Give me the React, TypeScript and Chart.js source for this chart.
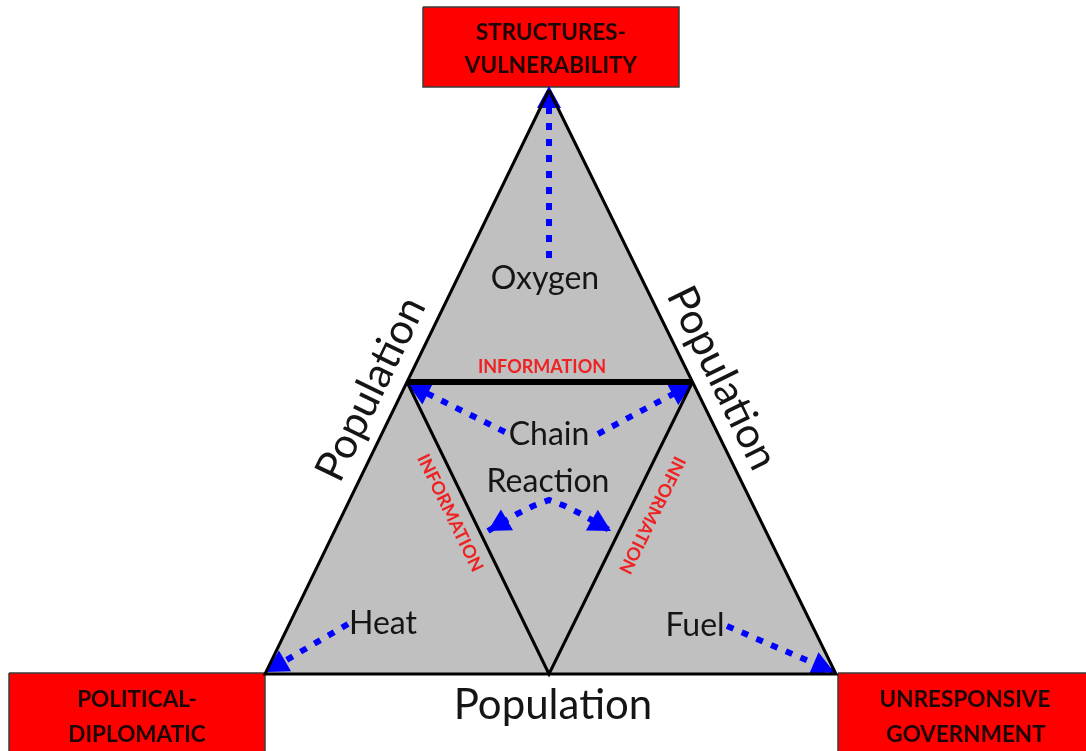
import React, { useEffect, useRef } from 'react';
import { Chart, registerables } from 'chart.js';

Chart.register(...registerables);

const W = 1086;
const H = 751;

// ---- geometry (data space, y grows downward) ----
const outerTriangle = [
  { x: 549, y: 90 },
  { x: 265, y: 674 },
  { x: 836, y: 674 },
  { x: 549, y: 90 },
];
const innerSides = [
  { x: 407, y: 382 },
  { x: 549, y: 674 },
  { x: 692.5, y: 382 },
];
const innerTop = [
  { x: 407, y: 382 },
  { x: 692.5, y: 382 },
];

// red boxes: [left, right, top, bottom]
const boxTop = [423, 679, 7, 87];
const boxLeft = [9, 265, 673, 770];
const boxRight = [838, 1096, 673, 770];

// blue dotted arrows (last point = arrow tip)
const arrowOxygen = [
  { x: 549, y: 258 },
  { x: 549, y: 86 },
];
const arrowChainLeft = [
  { x: 505, y: 432 },
  { x: 408, y: 384 },
];
const arrowChainRight = [
  { x: 598, y: 434 },
  { x: 692, y: 384 },
];
const arrowChainDown = [
  { x: 488, y: 531 },
  { x: 517, y: 514 },
  { x: 533, y: 506 },
  { x: 549, y: 500 },
  { x: 565, y: 506 },
  { x: 581, y: 514 },
  { x: 611, y: 531 },
];
const arrowHeat = [
  { x: 348, y: 624 },
  { x: 266, y: 672 },
];
const arrowFuel = [
  { x: 727, y: 626 },
  { x: 834, y: 672 },
];

// ---- texts ----
const boxTexts = ['STRUCTURES-', 'VULNERABILITY', 'POLITICAL-', 'DIPLOMATIC', 'UNRESPONSIVE', 'GOVERNMENT'];
const boxTextX = [551, 551, 137, 137, 965, 966];
const boxTextY = [40, 73, 707, 742, 707, 742];

const nodeTexts = ['Oxygen', 'Chain', 'Reaction', 'Heat', 'Fuel'];
const nodeTextX = [545, 549, 548, 383, 695];
const nodeTextY = [289, 445, 492, 634, 636];

const populationText = 'Population';
const informationText = 'INFORMATION';

function rectPoly(b: number[]) {
  return [
    { x: b[0], y: b[2] },
    { x: b[1], y: b[2] },
    { x: b[1], y: b[3] },
    { x: b[0], y: b[3] },
    { x: b[0], y: b[2] },
  ];
}

const FONT = 'Lato, "Open Sans", "DejaVu Sans", sans-serif';

const arrowHeadPlugin = {
  id: 'arrowHeads',
  afterDatasetDraw(chart: any, args: any) {
    const ds = chart.data.datasets[args.index];
    if (!ds.heads) return;
    const xs = chart.scales.x;
    const ys = chart.scales.y;
    const ctx = chart.ctx;
    const pts = ds.data.map((p: any) => ({ x: xs.getPixelForValue(p.x), y: ys.getPixelForValue(p.y) }));
    const drawHead = (tip: any, from: any) => {
      const dx = tip.x - from.x;
      const dy = tip.y - from.y;
      const len = Math.hypot(dx, dy) || 1;
      const ux = dx / len;
      const uy = dy / len;
      const L = 22;
      const hw = 12;
      const bx = tip.x - ux * L;
      const by = tip.y - uy * L;
      ctx.save();
      ctx.fillStyle = '#0000ff';
      ctx.beginPath();
      ctx.moveTo(tip.x, tip.y);
      ctx.lineTo(bx - uy * hw, by + ux * hw);
      ctx.lineTo(bx + uy * hw, by - ux * hw);
      ctx.closePath();
      ctx.fill();
      ctx.restore();
    };
    if (ds.heads === 'end' || ds.heads === 'both') {
      drawHead(pts[pts.length - 1], pts[pts.length - 2]);
    }
    if (ds.heads === 'both') {
      drawHead(pts[0], pts[1]);
    }
  },
};

const textPlugin = {
  id: 'diagramTexts',
  afterDatasetsDraw(chart: any) {
    const xs = chart.scales.x;
    const ys = chart.scales.y;
    const ctx = chart.ctx;
    const px = (v: number) => xs.getPixelForValue(v);
    const py = (v: number) => ys.getPixelForValue(v);
    ctx.save();
    ctx.textAlign = 'center';

    // box labels
    ctx.textBaseline = 'alphabetic';
    ctx.fillStyle = '#1c0606';
    ctx.font = `bold 22.5px ${FONT}`;
    boxTexts.forEach((t, i) => ctx.fillText(t, px(boxTextX[i]), py(boxTextY[i])));

    // node labels
    ctx.fillStyle = '#151515';
    ctx.font = `32px ${FONT}`;
    nodeTexts.forEach((t, i) => ctx.fillText(t, px(nodeTextX[i]), py(nodeTextY[i])));

    // bottom population
    ctx.font = `42px ${FONT}`;
    ctx.fillText(populationText, px(553), py(719));

    // side angles from triangle geometry
    const A = outerTriangle[0];
    const BL = outerTriangle[1];
    const BR = outerTriangle[2];
    const leftAng = Math.atan2(py(A.y) - py(BL.y), px(A.x) - px(BL.x));
    const rightAng = Math.atan2(py(BR.y) - py(A.y), px(BR.x) - px(A.x));
    const drawRot = (t: string, x: number, y: number, ang: number) => {
      ctx.save();
      ctx.translate(px(x), py(y));
      ctx.rotate(ang);
      ctx.fillText(t, 0, 0);
      ctx.restore();
    };
    ctx.textBaseline = 'middle';
    drawRot(populationText, 371, 389, leftAng);
    drawRot(populationText, 722, 378, rightAng);

    // information labels
    ctx.fillStyle = '#ee2222';
    ctx.font = `bold 18px ${FONT}`;
    drawRot(informationText, 542, 367, 0);
    const M = innerSides[1];
    const ML = innerSides[0];
    const MR = innerSides[2];
    const innerLeftAng = Math.atan2(py(M.y) - py(ML.y), px(M.x) - px(ML.x));
    const innerRightAng = Math.atan2(py(M.y) - py(MR.y), px(M.x) - px(MR.x));
    drawRot(informationText, 450, 513, innerLeftAng);
    drawRot(informationText, 652, 515, innerRightAng);
    ctx.restore();
  },
};

function dotted(data: any[], heads: string) {
  return {
    data,
    heads,
    borderColor: '#0000ff',
    borderWidth: 6,
    borderDash: [7, 9],
    borderCapStyle: 'butt',
    fill: false,
    pointRadius: 0,
    order: 5,
    clip: false,
  };
}

function box(b: number[]) {
  return {
    data: rectPoly(b),
    borderColor: '#3c3c3c',
    borderWidth: 1.5,
    backgroundColor: '#ff0000',
    fill: 'shape',
    pointRadius: 0,
    order: 10,
    clip: false,
  };
}

export default function App() {
  const ref = useRef<HTMLCanvasElement | null>(null);
  useEffect(() => {
    if (!ref.current) return;
    const chart = new Chart(ref.current, {
      type: 'line',
      data: {
        datasets: [
          box(boxTop),
          box(boxLeft),
          box(boxRight),
          {
            data: outerTriangle,
            borderWidth: 0,
            borderColor: 'rgba(0,0,0,0)',
            backgroundColor: '#c0c0c0',
            fill: 'shape',
            pointRadius: 0,
            order: 9,
            clip: false,
          },
          dotted(arrowOxygen, 'end'),
          dotted(arrowChainLeft, 'end'),
          dotted(arrowChainRight, 'end'),
          dotted(arrowChainDown, 'both'),
          dotted(arrowHeat, 'end'),
          dotted(arrowFuel, 'end'),
          {
            data: outerTriangle,
            borderColor: '#000000',
            borderWidth: 3,
            borderJoinStyle: 'miter',
            fill: false,
            pointRadius: 0,
            order: 1,
            clip: false,
          },
          {
            data: innerSides,
            borderColor: '#000000',
            borderWidth: 3,
            borderJoinStyle: 'miter',
            fill: false,
            pointRadius: 0,
            order: 1,
            clip: false,
          },
          {
            data: innerTop,
            borderColor: '#000000',
            borderWidth: 6,
            fill: false,
            pointRadius: 0,
            order: 0,
            clip: false,
          },
        ] as any,
      },
      options: {
        animation: false,
        responsive: false,
        devicePixelRatio: 1,
        layout: { padding: 0 },
        elements: { line: { tension: 0 }, point: { radius: 0 } },
        scales: {
          x: { type: 'linear', min: 0, max: W, display: false },
          y: { type: 'linear', min: 0, max: H, reverse: true, display: false },
        },
        plugins: {
          legend: { display: false },
          tooltip: { enabled: false },
        },
        events: [],
      } as any,
      plugins: [arrowHeadPlugin, textPlugin],
    });
    return () => chart.destroy();
  }, []);
  return (
    <div style={{ position: 'fixed', left: 0, top: 0, width: W, height: H, background: '#ffffff' }}>
      <canvas ref={ref} width={W} height={H} />
    </div>
  );
}
